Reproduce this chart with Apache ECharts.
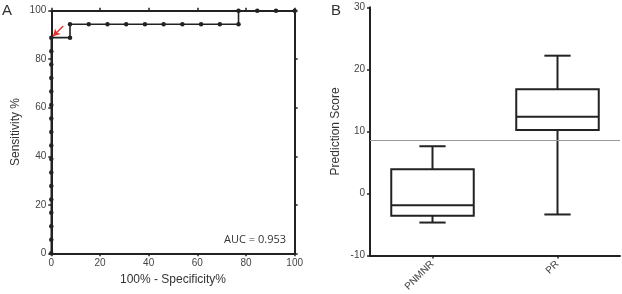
<!DOCTYPE html>
<html>
<head>
<meta charset="utf-8">
<script src="https://cdn.jsdelivr.net/npm/echarts@6/dist/echarts.min.js"></script>
<style>html,body{margin:0;padding:0;background:#fff;}#c{width:622px;height:294px;}</style>
</head>
<body>
<div id="c"></div>
<script>
// ROC curve (panel A)
const rocFPR = [0,0,0,0,0,0,0,0,0,0,0,0,0,0,0,0,0,7.69,7.69,15.38,23.08,30.77,38.46,46.15,53.85,61.54,69.23,76.92,76.92,84.62,92.31,100];
const rocSens = [0,5.56,11.11,16.67,22.22,27.78,33.33,38.89,44.44,50,55.56,61.11,66.67,72.22,77.78,83.33,88.89,88.89,94.44,94.44,94.44,94.44,94.44,94.44,94.44,94.44,94.44,94.44,100,100,100,100];
const rocTicks = [0,20,40,60,80,100];
const aucText = 'AUC = 0.953';
// Box plot (panel B)
const groups = ['PNMNR','PR'];
const boxMin = [-4.7,-3.4];
const boxQ1 = [-3.6,10.2];
const boxMedian = [-1.9,12.35];
const boxQ3 = [3.9,16.8];
const boxMax = [7.6,22.2];
const cutoff = 8.5;
const scoreTicks = [-10,0,10,20,30];

const rocData = rocFPR.map((x,i)=>[x, rocSens[i]]);
const boxData = groups.map((g,i)=>[i, boxMin[i], boxQ1[i], boxMedian[i], boxQ3[i], boxMax[i]]);

const axisCol = '#222';
const lblCol = '#444';
const font = 'Liberation Sans, Arial, sans-serif';

function renderBox(params, api){
  const idx = api.value(0);
  const lo = api.coord([idx, api.value(1)]);
  const q1 = api.coord([idx, api.value(2)]);
  const md = api.coord([idx, api.value(3)]);
  const q3 = api.coord([idx, api.value(4)]);
  const hi = api.coord([idx, api.value(5)]);
  const band = api.size([1,0])[0];
  const bw = band*0.66, cw = band*0.21;
  const x = lo[0];
  const st = {stroke: axisCol, lineWidth: 2, fill: null};
  return {type:'group', children:[
    {type:'line', shape:{x1:x,y1:q3[1],x2:x,y2:hi[1]}, style:st},
    {type:'line', shape:{x1:x,y1:q1[1],x2:x,y2:lo[1]}, style:st},
    {type:'line', shape:{x1:x-cw/2,y1:hi[1],x2:x+cw/2,y2:hi[1]}, style:st},
    {type:'line', shape:{x1:x-cw/2,y1:lo[1],x2:x+cw/2,y2:lo[1]}, style:st},
    {type:'rect', shape:{x:x-bw/2,y:q3[1],width:bw,height:q1[1]-q3[1]}, style:{stroke:axisCol,lineWidth:2,fill:'#fff'}},
    {type:'line', shape:{x1:x-bw/2,y1:md[1],x2:x+bw/2,y2:md[1]}, style:st}
  ]};
}

const chart = echarts.init(document.getElementById('c'), null, {renderer:'canvas'});
const axLine = {show:true, onZero:false, lineStyle:{color:axisCol, width:2}};
const axTick = {show:true, length:3, lineStyle:{color:axisCol, width:1.5}};
chart.setOption({
  animation:false,
  backgroundColor:'#fff',
  textStyle:{fontFamily:font},
  grid:[
    {left:51.3, right:327.3, top:10.7, bottom:40.7},
    {left:370, right:2, top:7.3, bottom:37.7}
  ],
  xAxis:[
    {gridIndex:0, type:'value', min:0, max:100, interval:20, position:'bottom',
     name:'100% - Specificity%', nameLocation:'middle', nameGap:20,
     nameTextStyle:{fontSize:12, color:'#333'},
     axisLine:axLine, axisTick:axTick, splitLine:{show:false},
     axisLabel:{color:lblCol, fontSize:10, margin:5}},
    {gridIndex:0, type:'value', min:0, max:100, interval:20, position:'top',
     axisLine:axLine, axisTick:axTick, splitLine:{show:false}, axisLabel:{show:false}},
    {gridIndex:1, type:'category', data:groups, boundaryGap:true,
     axisLine:axLine, axisTick:{show:true, alignWithLabel:true, length:3, lineStyle:{color:axisCol,width:1.5}},
     axisLabel:{color:lblCol, fontSize:10, rotate:45, margin:7}}
  ],
  yAxis:[
    {gridIndex:0, type:'value', min:0, max:100, interval:20, position:'left',
     name:'Sensitivity %', nameLocation:'middle', nameGap:30,
     nameTextStyle:{fontSize:12, color:'#333'},
     axisLine:axLine, axisTick:axTick, splitLine:{show:false},
     axisLabel:{color:lblCol, fontSize:10, margin:5}},
    {gridIndex:0, type:'value', min:0, max:100, interval:20, position:'right',
     axisLine:axLine, axisTick:axTick, splitLine:{show:false}, axisLabel:{show:false}},
    {gridIndex:1, type:'value', min:-10, max:30, interval:10,
     name:'Prediction Score', nameLocation:'middle', nameGap:28,
     nameTextStyle:{fontSize:12, color:'#333'},
     axisLine:axLine, axisTick:axTick, splitLine:{show:false},
     axisLabel:{color:lblCol, fontSize:10, margin:5}}
  ],
  graphic:[
    {type:'text', left:2, top:3, style:{text:'A', fontSize:15, fill:'#333', fontFamily:font}},
    {type:'text', left:331, top:3, style:{text:'B', fontSize:15, fill:'#333', fontFamily:font}},
    {type:'text', right:336, top:234, style:{text:aucText, fontSize:11, fill:'#333', fontFamily:'Open Sans, sans-serif'}}
  ],
  series:[
    {type:'line', xAxisIndex:0, yAxisIndex:0, data:rocData,
     symbol:'circle', symbolSize:4.5, showSymbol:true,
     lineStyle:{color:axisCol, width:1.6}, itemStyle:{color:axisCol},
     markLine:{silent:true, symbol:['none','arrow'], symbolSize:[6,7],
       label:{show:false}, lineStyle:{color:'#e8302a', width:1.4, type:'solid'},
       data:[[{coord:[4.9,93.7]},{coord:[0.7,89.5]}]]}},
    {type:'custom', xAxisIndex:2, yAxisIndex:2, data:boxData,
     renderItem:renderBox, encode:{x:0, y:[1,2,3,4,5]},
     markLine:{silent:true, symbol:'none', label:{show:false},
       lineStyle:{color:'#999', width:1, type:'solid'},
       data:[{yAxis:cutoff}]}}
  ]
});
</script>
</body>
</html>
